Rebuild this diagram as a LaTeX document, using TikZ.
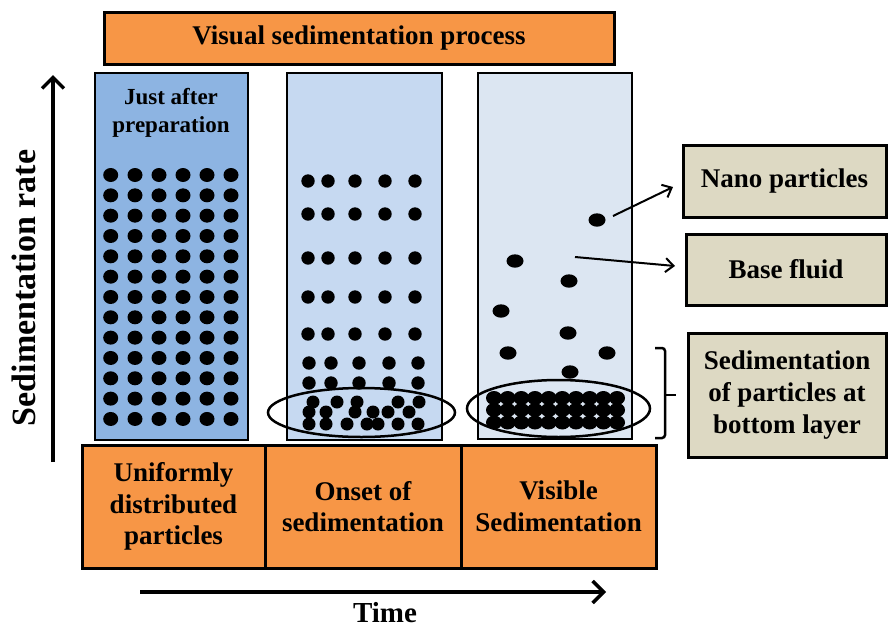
\documentclass[tikz,border=0pt]{standalone}
\usepackage{fontspec}
\setmainfont{Liberation Serif}
\usetikzlibrary{arrows.meta}
\definecolor{orng}{HTML}{F79646}
\definecolor{tubeA}{HTML}{8DB4E2}
\definecolor{tubeB}{HTML}{C6D9F1}
\definecolor{tubeC}{HTML}{DCE6F2}
\definecolor{tanbox}{HTML}{DDD9C3}
\tikzset{
  obox/.style={draw, line width=3pt, fill=orng, align=center, inner sep=0pt,
    font=\bfseries\fontsize{27}{31.5}\selectfont},
  tbox/.style={draw, line width=3pt, fill=tanbox, align=center, inner sep=0pt,
    font=\bfseries\fontsize{27}{32}\selectfont},
  tube/.style={draw, line width=2.8pt, inner sep=0pt},
  bigarrow/.style={line width=3.5pt, -{Straight Barb[length=11pt,width=22pt,line width=3.5pt]}},
  ptr/.style={line width=2pt, -{Straight Barb[length=8pt,width=14pt,line width=2pt]}},
  ring/.style={draw, line width=2.5pt},
}
\begin{document}
\begin{tikzpicture}[x=1pt,y=-1pt]
\useasboundingbox (0,0) rectangle (888,629);
% title
\node[obox, minimum width=510pt, minimum height=52pt] (title) at (359,38.5) {\fontsize{27}{30}\selectfont Visual sedimentation process};
% tubes
\node[tube, fill=tubeA, minimum width=153pt, minimum height=367pt] (tube1) at (171.5,256.5) {};
\node[tube, fill=tubeB, minimum width=155pt, minimum height=367pt] (tube2) at (364.5,256.5) {};
\node[tube, fill=tubeC, minimum width=154pt, minimum height=366pt] (tube3) at (555,256) {};
\node[align=center, font=\bfseries\fontsize{23}{28}\selectfont] (lab1) at (171,113) {Just after\\preparation};
% tube 1 dots
\foreach \cx in {110.7,135,159,183,207,231}{
  \foreach \i in {0,...,12}{
    \fill ({\cx},{175+\i*20.33}) ellipse [x radius=7.5pt, y radius=7pt];
  }
}
% tube 2 dots
\foreach \cy in {181,214,258,297,334}{
  \foreach \cx in {308,328,355,385,415}{
    \fill (\cx,\cy) circle [radius=6.7pt];
  }
}
\foreach \cy in {363,383}{
  \foreach \cx in {309,331,359,389,418}{
    \fill (\cx,\cy) circle [radius=6.7pt];
  }
}
\foreach \cx/\cy in {313/402,337/402,357/402,398/402,419/402,
  309/412,326/412,355/412,373/412,388/412,409/412,
  309/424,326/424,347/424,367/424,378/424,398/424,418/424}{
  \fill (\cx,\cy) circle [radius=6.5pt];
}
\draw[ring] (361.5,412.5) ellipse [x radius=93.5pt, y radius=24.5pt];
% tube 3 dots
\foreach \cx/\cy in {597/220,515/261,569/281,501/311,568/333,508/353,607/353,570/372}{
  \fill (\cx,\cy) ellipse [x radius=8.5pt, y radius=6.7pt];
}
\foreach \cy in {398,410,422.5}{
  \foreach \i in {0,...,9}{
    \fill ({494+\i*13.67},\cy) ellipse [x radius=8pt, y radius=7pt];
  }
}
\draw[ring] (558.5,408.5) ellipse [x radius=91.5pt, y radius=28.5pt];
% bottom boxes
\node[obox, minimum width=183pt, minimum height=123pt] (b1) at (173.5,506.5) {Uniformly\\distributed\\particles};
\node[obox, minimum width=196pt, minimum height=123pt] (b2) at (363,506.5) {Onset of\\sedimentation};
\node[obox, minimum width=195pt, minimum height=123pt] (b3) at (558.5,506.5) {Visible\\Sedimentation};
% right boxes
\node[tbox, minimum width=203pt, minimum height=72pt] (n1) at (784.5,181) {Nano particles};
\node[tbox, minimum width=200pt, minimum height=71pt] (n2) at (786,269.5) {Base fluid};
\node[tbox, minimum width=198pt, minimum height=124pt] (n3) at (787,395) {Sedimentation\\of particles at\\bottom layer};
% pointers
\coordinate (p1s) at (613,216);
\coordinate (p1e) at (673,187);
\coordinate (p2s) at (575,257);
\coordinate (p2e) at (675,266);
\draw[ptr] (p1s) -- (p1e);
\draw[ptr] (p2s) -- (p2e);
% bracket
\draw[line width=2.5pt, rounded corners=3pt] (655,348) -- (665,348) -- (665,438) -- (655,438);
\draw[line width=2.5pt] (665,395) -- (676,395);
% axes
\coordinate (ya) at (53,462);
\coordinate (yb) at (53,75);
\draw[bigarrow] (ya) -- (yb);
\node[rotate=90, font=\bfseries\fontsize{34}{38}\selectfont] (ylab) at (24,288) {Sedimentation rate};
\coordinate (xa) at (140,592);
\coordinate (xb) at (606,592);
\draw[bigarrow] (xa) -- (xb);
\node[font=\bfseries\fontsize{29}{32}\selectfont, anchor=base, inner sep=0pt] (xlab) at (385,622) {Time};
\end{tikzpicture}
\end{document}
